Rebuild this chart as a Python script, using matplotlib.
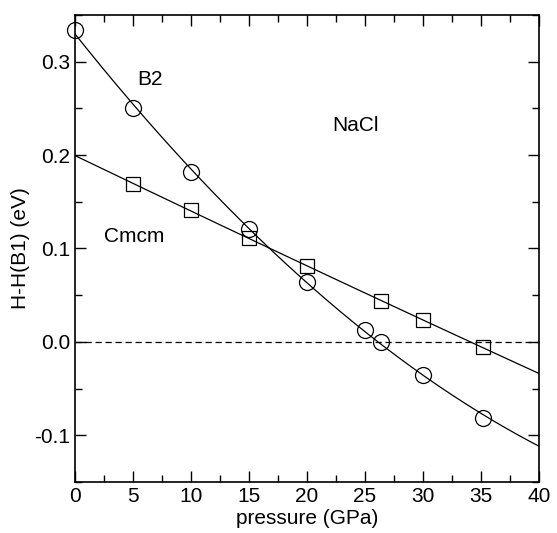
import numpy as np
import matplotlib
matplotlib.use("Agg")
import matplotlib.pyplot as plt
from matplotlib.ticker import MultipleLocator

plt.rcParams['font.family'] = ['Liberation Sans', 'DejaVu Sans']

b2_p = [0, 5, 10, 15, 20, 25, 26.4, 30, 35.2]
b2_h = [0.334, 0.250, 0.182, 0.121, 0.064, 0.013, 0.000, -0.035, -0.081]
cm_p = [5, 10, 15, 20, 26.4, 30, 35.2]
cm_h = [0.169, 0.141, 0.111, 0.081, 0.044, 0.023, -0.006]

fig = plt.figure(figsize=(5.57, 5.33), dpi=100)
ax = fig.add_axes([0.1347, 0.0957, 0.8330, 0.8762])

xs = np.linspace(0, 40, 200)
c1 = np.polyfit(b2_p, b2_h, 2)
c2 = np.polyfit(cm_p, cm_h, 2)
ax.plot(xs, np.polyval(c1, xs), color='black', lw=0.9)
ax.plot(xs, np.polyval(c2, xs), color='black', lw=0.9)
ax.plot(b2_p, b2_h, 'o', mfc='none', mec='black', ms=11.5, mew=0.9, clip_on=False)
ax.plot(cm_p, cm_h, 's', mfc='none', mec='black', ms=10, mew=0.9)
ax.axhline(0, color='black', ls=(0, (5, 3)), lw=0.9)

ax.set_xlim(0, 40)
ax.set_ylim(-0.15, 0.35)
ax.xaxis.set_major_locator(MultipleLocator(5))
ax.xaxis.set_minor_locator(MultipleLocator(2.5))
ax.yaxis.set_minor_locator(MultipleLocator(0.05))
ax.set_yticks([-0.1, 0.0, 0.1, 0.2, 0.3])
ax.set_yticklabels(['-0.1', '0.0', '0.1', '0.2', '0.3'])
ax.tick_params(which='both', direction='in', top=True, right=True, labelsize=15, width=1)
ax.tick_params(which='major', length=8)
ax.tick_params(which='minor', length=5)
for s in ax.spines.values():
    s.set_linewidth(1.2)

ax.set_xlabel('pressure (GPa)', fontsize=15, labelpad=2)
ax.set_ylabel('H-H(B1) (eV)', fontsize=15, labelpad=3)

ax.text(6.5, 0.281, 'B2', fontsize=15, ha='center', va='center')
ax.text(24.2, 0.232, 'NaCl', fontsize=15, ha='center', va='center')
ax.text(5.1, 0.113, 'Cmcm', fontsize=15, ha='center', va='center')

fig.savefig('out.png', dpi=100)
